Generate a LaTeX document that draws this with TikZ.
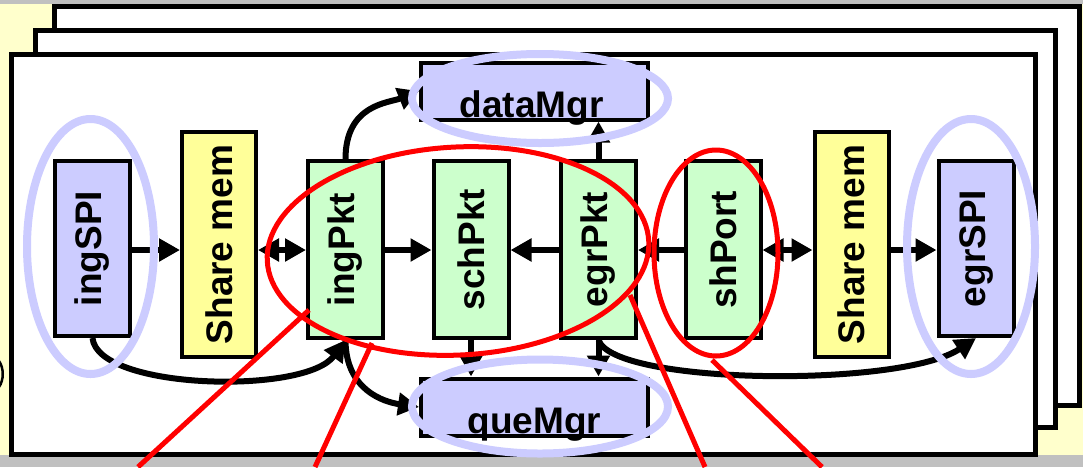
\documentclass[tikz,border=0pt]{standalone}
\usepackage{fontspec}
\setmainfont{Liberation Sans}
\usetikzlibrary{arrows.meta,calc}
\definecolor{mgrblue}{HTML}{CCCCFF}
\definecolor{memyellow}{HTML}{FFFF99}
\definecolor{pktgreen}{HTML}{CCFFCC}
\definecolor{paper}{HTML}{FFFFCC}
\definecolor{edgegray}{HTML}{C0C0C0}
\definecolor{ringblue}{HTML}{CCCCFF}

\begin{document}
\begin{tikzpicture}[x=1pt,y=-1pt,
  box/.style={draw=black, line width=4pt, inner sep=0pt, font=\bfseries\fontsize{37}{37}\selectfont},
  spi/.style={box, fill=mgrblue, minimum width=75pt, minimum height=175pt},
  mem/.style={box, fill=memyellow, minimum width=74pt, minimum height=225pt},
  pkt/.style={box, fill=pktgreen, minimum width=75pt, minimum height=177pt},
  mgr/.style={box, fill=mgrblue, minimum width=227pt, minimum height=57pt},
  lbl/.style={inner sep=0pt, font=\bfseries\fontsize{37}{37}\selectfont},
  sheet/.style={draw=black, fill=white, line width=5pt},
  flow/.style={line width=6pt, -{Triangle[length=21pt,width=22pt]}},
  both/.style={line width=6pt, {Triangle[length=21pt,width=22pt]}-{Triangle[length=21pt,width=22pt]}},
  ring/.style={draw=ringblue, line width=8pt},
  focus/.style={draw=red, line width=5pt},
]
\useasboundingbox (0,0) rectangle (1083,467);

% page background
\fill[edgegray] (0,0) rectangle (1083,467);
\fill[paper] (0,4) rectangle (1083,455);

% stacked sheets, back to front
\draw[sheet] (54.5,6.5) rectangle (1079.5,405.5);
\draw[sheet] (35,30.5) rectangle (1055.5,427.5);
\draw[sheet] (11.5,54.5) rectangle (1035.5,454.5);

% edge of a shape from the neighbouring page
\draw[line width=2.5pt] (-1,361) .. controls (4,368) and (4,380) .. (-1,387);

% blocks
\node[spi] (ingSPI) at (92.5,248.5) {\rotatebox{90}{ingSPI}};
\node[mem] (memL)   at (219,244.5)  {\rotatebox{90}{Share mem}};
\node[pkt] (ingPkt) at (345.5,249.5) {\rotatebox{90}{ingPkt}};
\node[pkt] (schPkt) at (471,249.5)  {\rotatebox{90}{schPkt}};
\node[pkt] (egrPkt) at (598.5,249.5) {\rotatebox{90}{egrPkt}};
\node[pkt] (shPort) at (723,249.5)  {\rotatebox{90}{shPort}};
\node[mem] (memR)   at (851.5,244.5) {\rotatebox{90}{Share mem}};
\node[spi] (egrSPI) at (976,248.5)  {\rotatebox{90}{egrSPI}};
\node[mgr] (dataMgr) at (534.5,91) {};
\node[mgr] (queMgr)  at (534.5,407) {};
\node[lbl, anchor=base] (dataMgrTxt) at ($(dataMgr.south)+(-3,-4)$) {dataMgr};
\node[lbl, anchor=base] (queMgrTxt)  at ($(queMgr.south)+(0,-4)$) {queMgr};

% main data path
\coordinate (row) at (0,250);
\draw[flow] (ingSPI.east |- row) -- (memL.west |- row);
\draw[both] (memL.east |- row) -- (ingPkt.west |- row);
\draw[flow] (ingPkt.east |- row) -- (schPkt.west |- row);
\draw[flow] (egrPkt.west |- row) -- (schPkt.east |- row);
\draw[flow] (shPort.west |- row) -- (egrPkt.east |- row);
\draw[both] (shPort.east |- row) -- (memR.west |- row);
\draw[flow] (memR.east |- row) -- (egrSPI.west |- row);

% manager links
\draw[flow] (egrPkt.north) -- (egrPkt.north |- dataMgr.south);
\draw[flow] (schPkt.south) -- (schPkt.south |- queMgr.north);
\draw[flow] (egrPkt.south) -- (egrPkt.south |- queMgr.north);
\draw[flow] (ingPkt.north) .. controls +(0,-55) and +(-30,12) .. (dataMgr.west);
\draw[flow] (ingPkt.south) .. controls +(0,50) and +(-35,-5) .. (queMgr.west);
\draw[flow] (ingSPI.south) .. controls +(5,52) and +(-40,55) .. (ingPkt.south);
\draw[flow] (egrPkt.south) .. controls +(15,45) and +(-75,50) .. (egrSPI.south);

% highlight rings
\draw[ring] (540,98.5) ellipse [x radius=128pt, y radius=44.5pt];
\draw[ring] (540,406.5) ellipse [x radius=128pt, y radius=47pt];
\draw[ring] (90.5,246.5) ellipse [x radius=63.5pt, y radius=127.5pt];
\draw[ring] (971,246.5) ellipse [x radius=64pt, y radius=127.5pt];

\draw[focus] (458,251) ellipse [x radius=191pt, y radius=104pt, rotate=3];
\draw[focus] (716,253) ellipse [x radius=62pt, y radius=103pt];

% call-out lines
\draw[focus] (309,310) -- (138,467);
\draw[focus] (372,343) -- (315,467);
\draw[focus] (630,295) -- (705,467);
\draw[focus] (712,360) -- (822,467);
\end{tikzpicture}
\end{document}
